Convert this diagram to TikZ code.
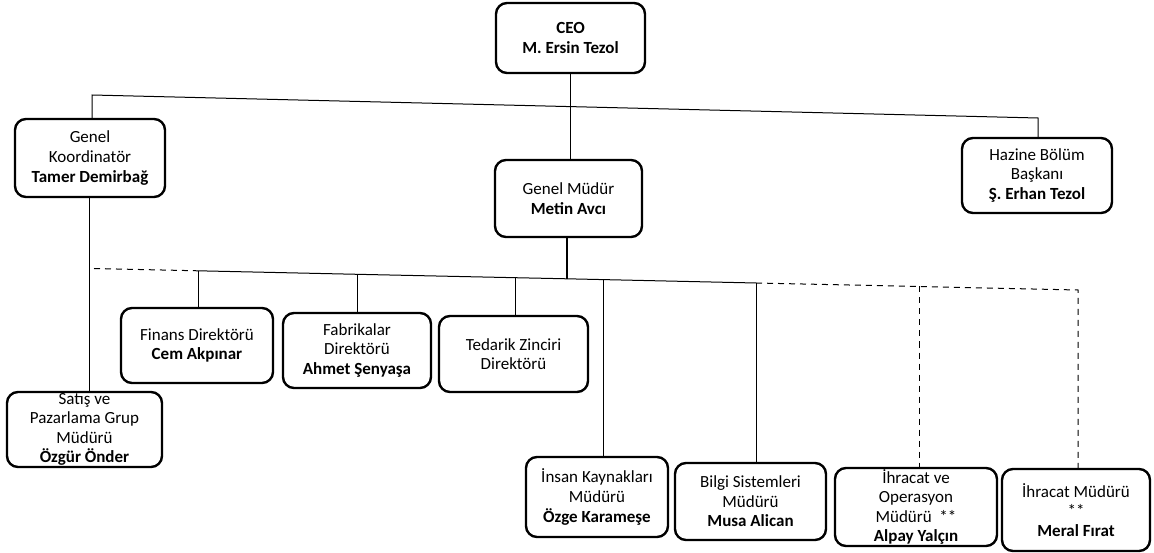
\documentclass[tikz,border=0pt]{standalone}
\usepackage{fontspec}
\setmainfont{Carlito}
\begin{document}
\begin{tikzpicture}[x=1pt,y=-1pt,
  box/.style={draw=black, line width=2.4pt, rounded corners=11pt, align=center, inner sep=1pt, font=\fontsize{17}{19.6}\selectfont},
  link/.style={draw=black, line width=1pt},
  dlink/.style={link, dash pattern=on 6pt off 5pt}]
\useasboundingbox (0,0) rectangle (1154,553);
% boxes
\node[box, minimum width=149pt, minimum height=70pt] (ceo) at (570.5,38) {\textbf{CEO}\\\textbf{M. Ersin Tezol}};
\node[box, minimum width=150pt, minimum height=78pt] (gk) at (90,158) {Genel\\Koordinatör\\\textbf{Tamer Demirbağ}};
\node[box, minimum width=147pt, minimum height=77pt] (gm) at (568.5,198.5) {Genel Müdür\\\textbf{Metin Avcı}};
\node[box, minimum width=150pt, minimum height=75pt] (hz) at (1037,175.5) {Hazine Bölüm\\Başkanı\\\textbf{Ş. Erhan Tezol}};
\node[box, minimum width=152pt, minimum height=75pt] (fin) at (197,345.5) {Finans Direktörü\\\textbf{Cem Akpınar}};
\node[box, minimum width=148pt, minimum height=75pt] (fab) at (357,350.5) {Fabrikalar\\Direktörü\\\textbf{Ahmet Şenyaşa}};
\node[box, minimum width=149pt, minimum height=76pt] (ted) at (513.5,354) {Tedarik Zinciri\\Direktörü};
\node[box, minimum width=155pt, minimum height=75pt] (sat) at (84.5,429.5) {Satış ve\\Pazarlama Grup\\Müdürü\\\textbf{Özgür Önder}};
\node[box, minimum width=142pt, minimum height=80pt] (ik) at (597,497) {İnsan Kaynakları\\Müdürü\\\textbf{Özge Karameşe}};
\node[box, minimum width=151pt, minimum height=77pt] (bs) at (750.5,501.5) {Bilgi Sistemleri\\Müdürü\\\textbf{Musa Alican}};
\node[box, minimum width=162pt, minimum height=78pt] (iop) at (916,507) {İhracat ve\\Operasyon\\Müdürü~~**\\\textbf{Alpay Yalçın}};
\node[box, minimum width=148pt, minimum height=82pt] (ihm) at (1076,510) {İhracat Müdürü\\**\\\textbf{Meral Fırat}};
% top line
\coordinate (tl) at (92,95);
\coordinate (tm) at (570,106.6);
\coordinate (tr) at (1038,118);
\draw[link] (tl |- gk.north) -- (tl) -- (tm) -- (tr) -- (tr |- hz.north);
\draw[link] (ceo.south) -- (ceo.south |- gm.north);
\draw[link] ([xshift=-1pt]gk.south) -- ([xshift=-1pt]gk.south |- sat.north);
% bus
\coordinate (b0) at (94,268.5);
\coordinate (b1) at (198,270.8);
\coordinate (b2) at (357,274.3);
\coordinate (b3) at (515,277.7);
\coordinate (bm) at (567,278.8);
\coordinate (b4) at (603,279.6);
\coordinate (b5) at (756,283);
\coordinate (b6) at (919,286.5);
\coordinate (b7) at (1078,290);
\draw[link, line width=1.8pt] (bm |- gm.south) -- (bm);
\draw[dlink] (b0) -- (b1);
\draw[link] (b1) -- (b2) -- (b3) -- (bm) -- (b4) -- (b5);
\draw[dlink] (b5) -- (b6) -- (b7) -- (b7 |- ihm.north);
\draw[dlink] (b6) -- (b6 |- iop.north);
\draw[link] (b1) -- (b1 |- fin.north);
\draw[link] (b2) -- (b2 |- fab.north);
\draw[link] (b3) -- (b3 |- ted.north);
\draw[link] (b4) -- (b4 |- ik.north);
\draw[link] (b5) -- (b5 |- bs.north);
\end{tikzpicture}
\end{document}
